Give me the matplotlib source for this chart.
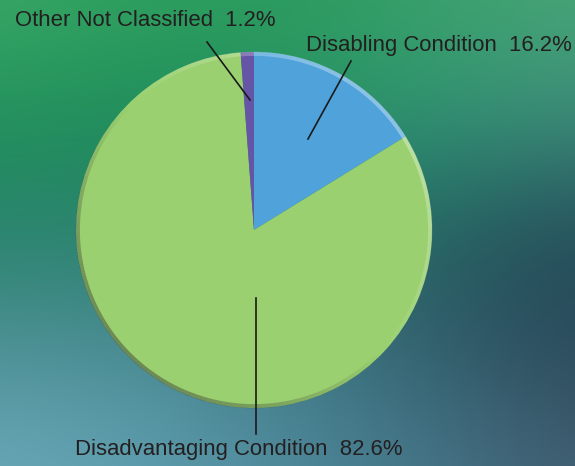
import numpy as np
import matplotlib
matplotlib.use("Agg")
import matplotlib.pyplot as plt
from matplotlib.collections import LineCollection
from matplotlib.colors import to_rgb

# data
labels = ["Disabling Condition", "Disadvantaging Condition", "Other Not Classified"]
values = [16.2, 82.6, 1.2]
colors = ["#4fa2da", "#9ad070", "#6654a6"]

# label text positions (left x, centre y) and leader lines, in pixel space (y up)
label_pos = [(306, 421), (75, 17), (15, 446)]
leaders = [((351, 405), (308, 327)), ((256, 168), (256, 32)), ((207, 424), (250, 366))]

# background colour grid (rows top->bottom)
bg_rows = [
    ['#39a866', '#2e9f5f', '#2c9c5e', '#39a16a', '#48a678'],
    ['#21905b', '#1d8c58', '#259062', '#2e9474', '#3d8a7a'],
    ['#28836c', '#2a806e', '#2a7870', '#236260', '#244c5a'],
    ['#4f9096', '#4a8a92', '#3f7a86', '#325e6c', '#2a4858'],
    ['#6aa8b8', '#5f9fb0', '#4f8a9c', '#45788a', '#425e72'],
]

W, H = 575, 466
fig = plt.figure(figsize=(W / 100, H / 100), dpi=100)
ax = fig.add_axes([0, 0, 1, 1])

bg = np.array([[to_rgb(c) for c in row] for row in bg_rows])
ax.imshow(bg, extent=[-60, W + 60, -50, H + 50], interpolation="bicubic",
          origin="upper", aspect="auto", zorder=0)

cx, cy, r = 254, 236, 178
ax.pie(values, colors=colors, startangle=90, counterclock=False,
       center=(cx, cy), radius=r, frame=True,
       wedgeprops=dict(linewidth=0, zorder=2))
ax.set_xlim(0, W)
ax.set_ylim(0, H)
ax.set_aspect("equal")
ax.axis("off")

# rim shading: light upper-right, dark lower-left
th = np.linspace(0, 2 * np.pi, 361)
rr = r - 1.8
pts = np.column_stack([cx + rr * np.cos(th), cy + rr * np.sin(th)])
segs = np.stack([pts[:-1], pts[1:]], axis=1)
s = np.cos(th[:-1] - np.pi / 4)
rgba = np.zeros((len(s), 4))
rgba[s > 0, :3] = 1.0
rgba[s > 0, 3] = 0.35 * s[s > 0]
rgba[s <= 0, :3] = 0.2
rgba[s <= 0, 3] = 0.45 * -s[s <= 0]
ax.add_collection(LineCollection(segs, colors=rgba, linewidths=3.0, zorder=3))

for (p0, p1) in leaders:
    ax.plot([p0[0], p1[0]], [p0[1], p1[1]], color="#1a1a1a", lw=1.2, zorder=4)

fam = ["Liberation Sans Narrow", "Liberation Sans", "DejaVu Sans"]
for lab, v, (x, y) in zip(labels, values, label_pos):
    ax.text(x, y, f"{lab}  {v}%", ha="left", va="center", fontsize=15.9,
            color="#231f20", family=fam, zorder=5)

fig.savefig("out.png", dpi=100)
